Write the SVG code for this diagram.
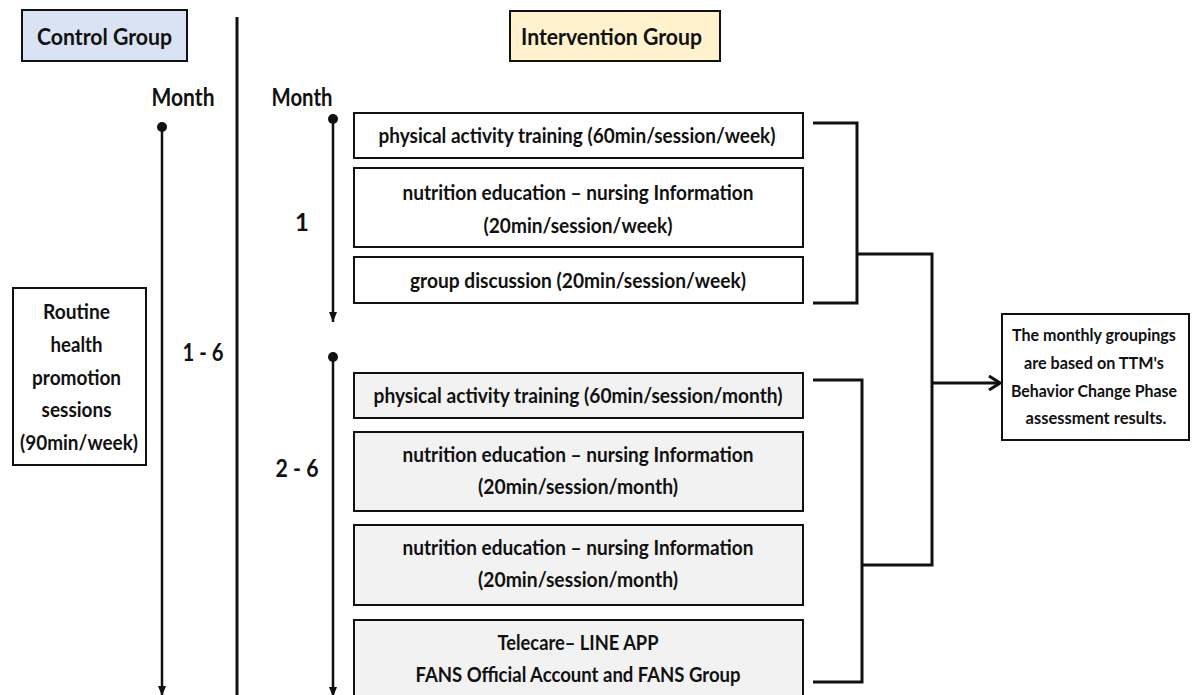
<svg xmlns="http://www.w3.org/2000/svg" width="1192" height="695" viewBox="0 0 1192 695">
  <defs>
    <style>
      .t { font-family: "Lato", "Liberation Sans", sans-serif; font-weight: 700; fill: #111; }
      .s17 { font-size: 17px; }
      .s20 { font-size: 20px; }
      .s22 { font-size: 22px; }
      .s24 { font-size: 24px; }
      .box { stroke: #111; stroke-width: 2; }
      .white { fill: #ffffff; }
      .grey { fill: #f2f2f2; }
      .conn { fill: none; stroke: #111; stroke-width: 3; }
      .axis { fill: none; stroke: #111; stroke-width: 2.5; }
    </style>
    <marker id="tri" viewBox="0 0 10 10" refX="10" refY="5" markerWidth="10" markerHeight="10" markerUnits="userSpaceOnUse" orient="auto">
      <path d="M0,1 L10,5 L0,9 Z" fill="#111"/>
    </marker>
    <marker id="chev" viewBox="0 0 14 16" refX="13" refY="8" markerWidth="14" markerHeight="16" markerUnits="userSpaceOnUse" orient="auto">
      <path d="M2,1 L13,8 L2,15" fill="none" stroke="#111" stroke-width="3"/>
    </marker>
  </defs>

  <rect width="1192" height="695" fill="#ffffff"/>

  <!-- column headers -->
  <g id="control-header">
    <rect x="22" y="10" width="165" height="51" fill="#dae3f3" class="box"/>
    <text class="t s22" x="37" y="45" textLength="135" lengthAdjust="spacingAndGlyphs">Control Group</text>
  </g>
  <g id="intervention-header">
    <rect x="510" y="11" width="210" height="50" fill="#fff2cc" class="box"/>
    <text class="t s22" x="521" y="45" textLength="181" lengthAdjust="spacingAndGlyphs">Intervention Group</text>
  </g>

  <!-- divider between groups -->
  <line x1="237" y1="17" x2="237" y2="695" stroke="#111" stroke-width="3"/>

  <!-- month labels -->
  <g id="month-labels">
    <text class="t s24" x="183" y="106" text-anchor="middle" textLength="63" lengthAdjust="spacingAndGlyphs">Month</text>
    <text class="t s24" x="302" y="106" text-anchor="middle" textLength="61" lengthAdjust="spacingAndGlyphs">Month</text>
    <text class="t s24" x="203" y="361" text-anchor="middle" textLength="41" lengthAdjust="spacingAndGlyphs">1 - 6</text>
    <text class="t s24" x="302" y="231" text-anchor="middle">1</text>
    <text class="t s24" x="297" y="477" text-anchor="middle" textLength="43" lengthAdjust="spacingAndGlyphs">2 - 6</text>
  </g>

  <!-- timelines -->
  <g id="timelines">
    <circle cx="162" cy="127" r="5" fill="#111"/>
    <line class="axis" x1="162" y1="127" x2="162" y2="696" marker-end="url(#tri)"/>
    <circle cx="333" cy="119" r="5" fill="#111"/>
    <line class="axis" x1="333" y1="119" x2="333" y2="322" marker-end="url(#tri)"/>
    <circle cx="333" cy="357" r="5" fill="#111"/>
    <line class="axis" x1="333" y1="357" x2="333" y2="697" marker-end="url(#tri)"/>
  </g>

  <!-- control group activity -->
  <g id="routine">
    <rect x="13" y="288" width="133" height="177" class="box white"/>
    <text class="t s20" x="79" text-anchor="middle">
      <tspan x="79" y="319" textLength="67" lengthAdjust="spacingAndGlyphs">Routine</tspan>
      <tspan x="79" y="352" textLength="52" lengthAdjust="spacingAndGlyphs">health</tspan>
      <tspan x="79" y="385" textLength="89" lengthAdjust="spacingAndGlyphs">promotion</tspan>
      <tspan x="79" y="417" textLength="70" lengthAdjust="spacingAndGlyphs">sessions</tspan>
      <tspan x="79" y="450" textLength="118" lengthAdjust="spacingAndGlyphs">(90min/week)</tspan>
    </text>
  </g>

  <!-- month 1 activities -->
  <g id="m1-physical">
    <rect x="354" y="113" width="449" height="45" class="box white"/>
    <text class="t s20" x="577" y="143" text-anchor="middle" textLength="397" lengthAdjust="spacingAndGlyphs">physical activity training (60min/session/week)</text>
  </g>
  <g id="m1-nutrition">
    <rect x="354" y="168" width="449" height="79" class="box white"/>
    <text class="t s20" x="578" y="200" text-anchor="middle" textLength="351" lengthAdjust="spacingAndGlyphs">nutrition education – nursing Information</text>
    <text class="t s20" x="578" y="233" text-anchor="middle" textLength="189" lengthAdjust="spacingAndGlyphs">(20min/session/week)</text>
  </g>
  <g id="m1-discussion">
    <rect x="354" y="257" width="449" height="46" class="box white"/>
    <text class="t s20" x="578" y="288" text-anchor="middle" textLength="336" lengthAdjust="spacingAndGlyphs">group discussion (20min/session/week)</text>
  </g>

  <!-- months 2-6 activities -->
  <g id="m26-physical">
    <rect x="354" y="373" width="449" height="45" class="box grey"/>
    <text class="t s20" x="578" y="403" text-anchor="middle" textLength="409" lengthAdjust="spacingAndGlyphs">physical activity training (60min/session/month)</text>
  </g>
  <g id="m26-nutrition-a">
    <rect x="354" y="432" width="449" height="79" class="box grey"/>
    <text class="t s20" x="578" y="462" text-anchor="middle" textLength="351" lengthAdjust="spacingAndGlyphs">nutrition education – nursing Information</text>
    <text class="t s20" x="578" y="494" text-anchor="middle" textLength="200" lengthAdjust="spacingAndGlyphs">(20min/session/month)</text>
  </g>
  <g id="m26-nutrition-b">
    <rect x="354" y="525" width="449" height="80" class="box grey"/>
    <text class="t s20" x="578" y="555" text-anchor="middle" textLength="351" lengthAdjust="spacingAndGlyphs">nutrition education – nursing Information</text>
    <text class="t s20" x="578" y="587" text-anchor="middle" textLength="200" lengthAdjust="spacingAndGlyphs">(20min/session/month)</text>
  </g>
  <g id="m26-telecare">
    <rect x="354" y="620" width="449" height="90" class="box grey"/>
    <text class="t s20" x="578" y="650" text-anchor="middle" textLength="161" lengthAdjust="spacingAndGlyphs">Telecare– LINE APP</text>
    <text class="t s20" x="578" y="682" text-anchor="middle" textLength="325" lengthAdjust="spacingAndGlyphs">FANS Official Account and FANS Group</text>
  </g>

  <!-- outcome -->
  <g id="outcome">
    <rect x="1002" y="314" width="187" height="126" class="box white"/>
    <text class="t s17" text-anchor="middle">
      <tspan x="1096" y="341" textLength="164" lengthAdjust="spacingAndGlyphs">The monthly groupings</tspan>
      <tspan x="1096" y="369" textLength="140" lengthAdjust="spacingAndGlyphs">are based on TTM's</tspan>
      <tspan x="1096" y="397" textLength="166" lengthAdjust="spacingAndGlyphs">Behavior Change Phase</tspan>
      <tspan x="1096" y="424" textLength="141" lengthAdjust="spacingAndGlyphs">assessment results.</tspan>
    </text>
  </g>

  <!-- brackets and arrow -->
  <g id="connectors">
    <path class="conn" d="M813,123 H857 V303 H813"/>
    <path class="conn" d="M857,254 H932 V565 H862"/>
    <path class="conn" d="M813,380 H862 V682 H813"/>
    <line class="conn" x1="932" y1="383" x2="1000" y2="383" marker-end="url(#chev)"/>
  </g>
</svg>
